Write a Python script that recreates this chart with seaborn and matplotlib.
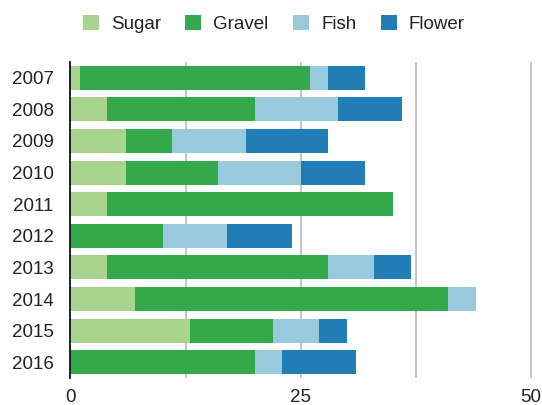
import matplotlib
matplotlib.use("Agg")
import matplotlib.pyplot as plt
from matplotlib.patches import Patch
import seaborn as sns
import pandas as pd
import numpy as np

years = ["2007", "2008", "2009", "2010", "2011", "2012", "2013", "2014", "2015", "2016"]
sugar = [1, 4, 6, 6, 4, 0, 4, 7, 13, 0]
gravel = [25, 16, 5, 10, 31, 10, 24, 34, 9, 20]
fish = [2, 9, 8, 9, 0, 7, 5, 3, 5, 3]
flower = [4, 7, 9, 7, 0, 7, 4, 0, 3, 8]

series = ["Sugar", "Gravel", "Fish", "Flower"]
colors = ["#a8d490", "#34a94b", "#99c9dd", "#207db6"]

sns.set_theme(style="white")
plt.rcParams["font.family"] = ["Liberation Sans", "DejaVu Sans"]

df = pd.DataFrame({"year": years, "Sugar": sugar, "Gravel": gravel,
                   "Fish": fish, "Flower": flower})
cum = df[series].cumsum(axis=1)
cum["year"] = df["year"]

fig = plt.figure(figsize=(5.42, 4.05), dpi=100)
ax = fig.add_axes([70.5 / 542, 1 - 378 / 405, (533.8 - 70.5) / 542, (378 - 62) / 405])

for name, col in reversed(list(zip(series, colors))):
    sns.barplot(data=cum, x=name, y="year", order=years, orient="h",
                color=col, saturation=1, width=0.76, linewidth=0, ax=ax)

ax.set_xlim(0, 50.3)
ax.set_ylim(9.5, -0.5)
ax.set_xticks([0, 12.5, 25, 37.5, 50])
ax.set_xticklabels(["0", "", "25", "", "50"])
ax.xaxis.grid(True, color="#c4c4c4", linewidth=1.4)
ax.set_axisbelow(True)
ax.set_xlabel("")
ax.set_ylabel("")
for s in ["top", "right", "bottom"]:
    ax.spines[s].set_visible(False)
ax.spines["left"].set_color("#111111")
ax.spines["left"].set_linewidth(1.3)
ax.tick_params(axis="x", length=0, pad=8, labelsize=13.5, colors="#222222")
ax.tick_params(axis="y", length=0, pad=12, labelsize=13.5, colors="#222222")

handles = [Patch(facecolor=c, edgecolor="none", label=n) for n, c in zip(series, colors)]
fig.legend(handles=handles, loc="center", bbox_to_anchor=(0.505, 0.94), ncol=4,
           frameon=False, fontsize=13.5, handlelength=0.85, handleheight=0.85,
           handletextpad=0.65, columnspacing=1.3, labelcolor="#222222")

fig.savefig("out.png", dpi=100)
